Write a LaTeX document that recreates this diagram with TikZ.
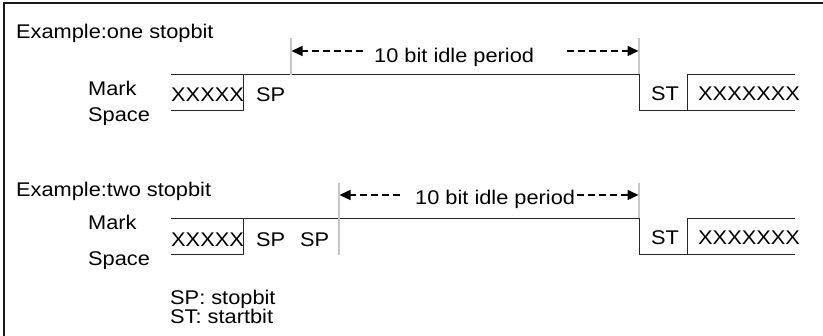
\documentclass[tikz,border=0pt]{standalone}
\usepackage{fontspec}
\setmainfont{Liberation Sans}[FakeStretch=1.1]
\usetikzlibrary{arrows.meta}
\begin{document}
\begin{tikzpicture}[x=1pt,y=-1pt,
  lbl/.style={inner sep=0pt,anchor=base west,font=\fontsize{19.8}{22}\selectfont},
  wave/.style={line width=1pt,draw=black!85},
  frameline/.style={line width=2pt,draw=black!90},
  marker/.style={line width=1.2pt,draw=black!22},
  idle/.style={line width=1.3pt,dash pattern=on 7pt off 4pt,-{Triangle[length=11pt,width=10pt]}}]
\useasboundingbox (0,0) rectangle (823,336);
% frame
\coordinate (fbl) at (4,336);
\coordinate (ftl) at (4,3);
\coordinate (ftr) at (823,3);
\draw[frameline] (fbl) -- (ftl) -- (ftr);

% ---------- example 1 ----------
\node[lbl] (ex1) at (16,39) {Example:one stopbit};
\node[lbl] (mark1) at (88,96) {Mark};
\node[lbl] (space1) at (88,121.5) {Space};
\node[lbl] (xa1) at (171,102) {XXXXX};
\node[lbl] (sp1) at (256,102) {SP};
\node[lbl] (st1) at (651,101) {ST};
\node[lbl] (xb1) at (698,101) {XXXXXXX};
\node[lbl] (idle1) at (374,62.5) {10 bit idle period};

\coordinate (a1s) at (171,75);
\coordinate (a1e) at (639,75);
\coordinate (b1s) at (171,111);
\coordinate (b1e) at (243,111);
\coordinate (c1t) at (243,75);
\coordinate (d1b) at (639,111);
\coordinate (d1e) at (795,111);
\coordinate (e1t) at (687,75);
\coordinate (e1b) at (687,111);
\coordinate (e1e) at (795,75);
\draw[wave] (a1s) -- (a1e) -- (d1b) -- (d1e);
\draw[wave] (b1s) -- (b1e) -- (c1t);
\draw[wave] (e1b) -- (e1t) -- (e1e);

\coordinate (m1l) at (291,38);
\coordinate (m1lb) at (291,75);
\coordinate (m1r) at (639,38);
\coordinate (m1rb) at (639,74.5);
\draw[marker] (m1l) -- (m1lb);
\draw[marker] (m1r) -- (m1rb);
\coordinate (al1) at (363,51);
\coordinate (al1t) at (291.5,51);
\coordinate (ar1) at (567,51);
\coordinate (ar1t) at (638.5,51);
\draw[idle] (al1) -- (al1t);
\draw[idle] (ar1) -- (ar1t);

% ---------- example 2 ----------
\node[lbl] (ex2) at (16,197) {Example:two stopbit};
\node[lbl] (mark2) at (88,229.5) {Mark};
\node[lbl] (space2) at (88,266) {Space};
\node[lbl] (xa2) at (171,247) {XXXXX};
\node[lbl] (sp2a) at (256,247) {SP};
\node[lbl] (sp2b) at (300,247) {SP};
\node[lbl] (st2) at (651,245) {ST};
\node[lbl] (xb2) at (698,245) {XXXXXXX};
\node[lbl] (idle2) at (415,205) {10 bit idle period};

\coordinate (a2s) at (171,219);
\coordinate (a2e) at (639,219);
\coordinate (b2s) at (171,255);
\coordinate (b2e) at (243,255);
\coordinate (c2t) at (243,219);
\coordinate (d2b) at (639,255);
\coordinate (d2e) at (795,255);
\coordinate (e2t) at (687,219);
\coordinate (e2b) at (687,255);
\coordinate (e2e) at (795,219);
\draw[wave] (a2s) -- (a2e) -- (d2b) -- (d2e);
\draw[wave] (b2s) -- (b2e) -- (c2t);
\draw[wave] (e2b) -- (e2t) -- (e2e);

\coordinate (m2l) at (339,183);
\coordinate (m2lb) at (339,255);
\coordinate (m2r) at (639,183);
\coordinate (m2rb) at (639,218.5);
\draw[marker] (m2l) -- (m2lb);
\draw[marker] (m2r) -- (m2rb);
\coordinate (al2) at (400,195);
\coordinate (al2t) at (339.5,195);
\coordinate (ar2) at (577,195);
\coordinate (ar2t) at (638.5,195);
\draw[idle] (al2) -- (al2t);
\draw[idle] (ar2) -- (ar2t);

% legend
\node[lbl] (lsp) at (170,305) {SP: stopbit};
\node[lbl] (lst) at (170,324) {ST: startbit};
\end{tikzpicture}
\end{document}
